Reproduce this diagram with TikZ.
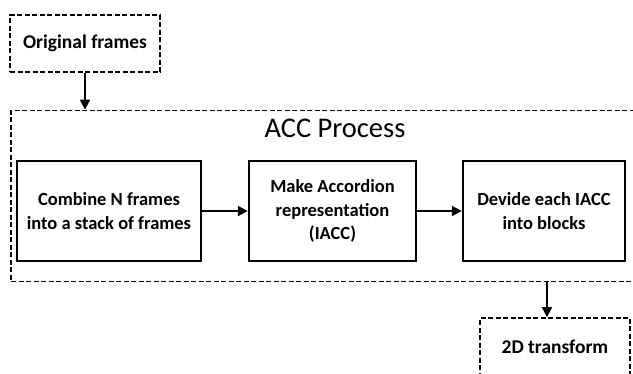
\documentclass[tikz,border=0pt]{standalone}
\usepackage{fontspec}
\setmainfont{Carlito}
\usetikzlibrary{arrows.meta}
\begin{document}
\begin{tikzpicture}[x=1pt,y=-1pt,
  dbox/.style={draw, line width=1.8pt, dash pattern=on 5pt off 2.5pt, inner sep=0pt, font=\bfseries\fontsize{19.5}{23.5}\selectfont},
  sbox/.style={draw, line width=2.4pt, inner sep=0pt, align=center, font=\bfseries\fontsize{18.5}{23.5}\selectfont},
  arr/.style={line width=2pt, -{Triangle[length=10pt,width=10pt]}}]
\useasboundingbox (0,0) rectangle (633,373);
\clip (0,0) rectangle (633,373);
\node[dbox, minimum width=150pt, minimum height=57pt] (orig) at (85,43.5) {Original frames};
\node[dbox, minimum width=650pt, minimum height=171pt] (acc) at (336,196) {};
\node[font=\fontsize{28.5}{32}\selectfont] (title) at (335,128) {ACC Process};
\node[sbox, minimum width=184pt, minimum height=100pt] (b1) at (109,211) {Combine N frames\\into a stack of frames};
\node[sbox, minimum width=167pt, minimum height=100pt] (b2) at (332.5,211) {Make Accordion\\representation\\(IACC)};
\node[sbox, minimum width=162pt, minimum height=100pt] (b3) at (544,211) {Devide each IACC\\into blocks};
\node[dbox, minimum width=150pt, minimum height=58pt] (tr) at (555,347) {2D transform};
\coordinate (d1) at (547,0);
\draw[arr] (orig.south) -- (orig.south |- acc.north);
\draw[arr] (b1.east) -- (b2.west);
\draw[arr] (b2.east) -- (b3.west);
\draw[arr] (d1 |- acc.south) -- (d1 |- tr.north);
\end{tikzpicture}
\end{document}
